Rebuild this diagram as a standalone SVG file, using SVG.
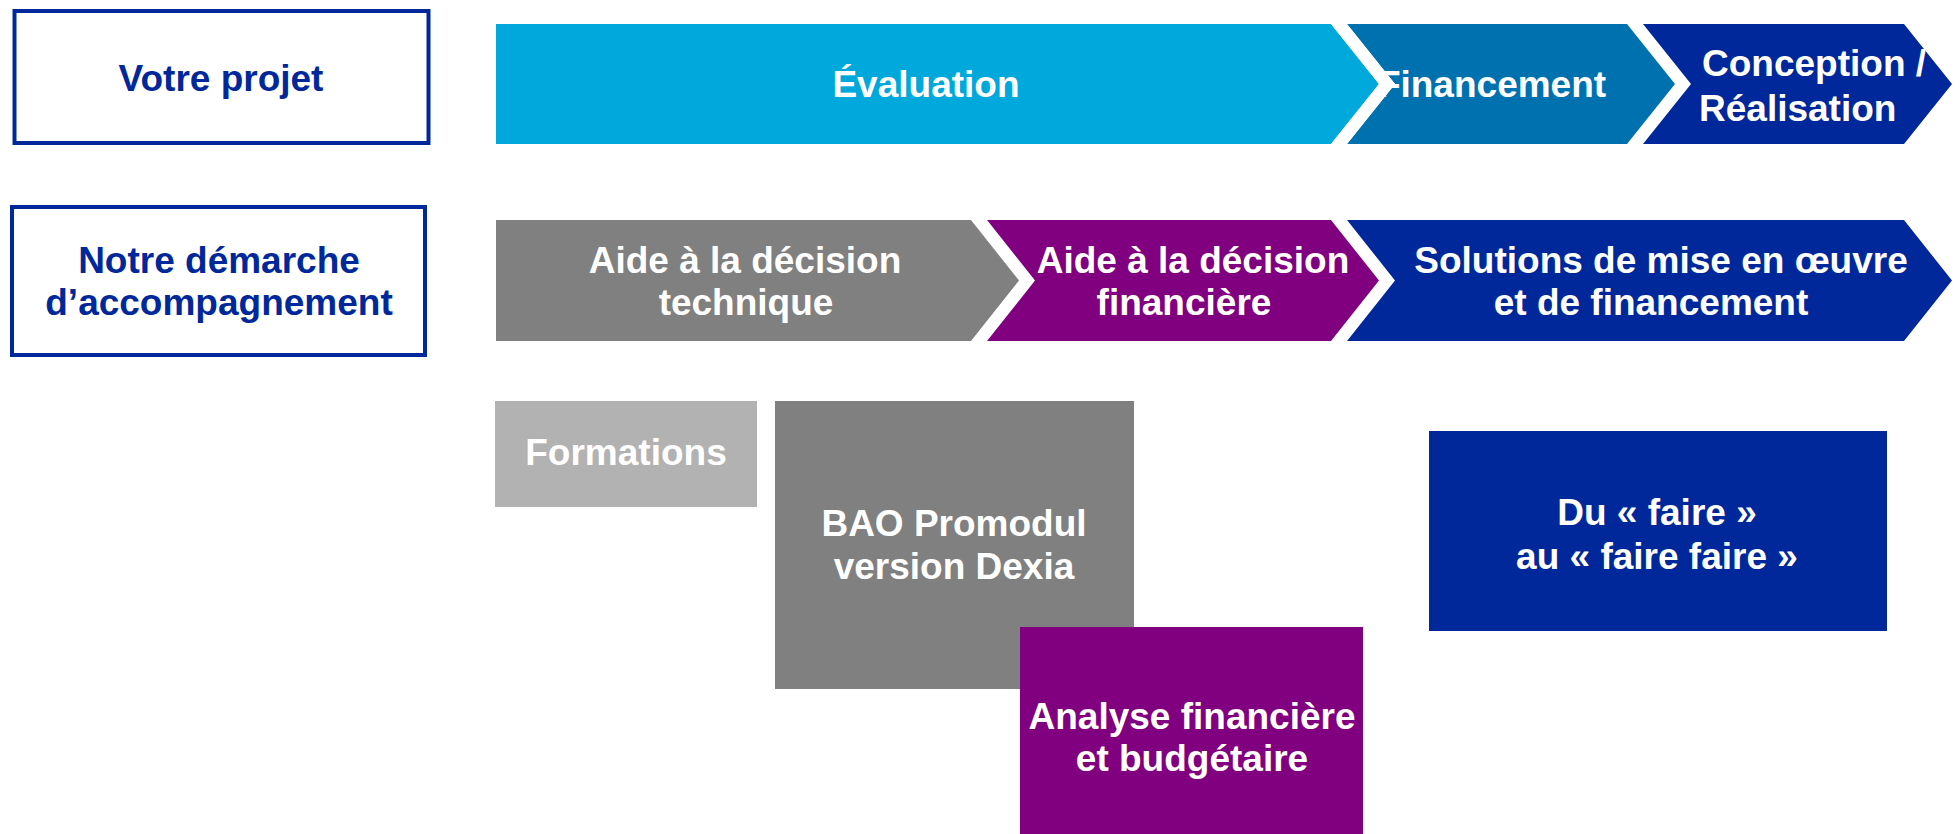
<svg xmlns="http://www.w3.org/2000/svg" width="1960" height="834" viewBox="0 0 1960 834">
<style>
text{font-family:"Liberation Sans",Arial,sans-serif;font-weight:bold;font-size:37px;fill:#ffffff;text-anchor:middle}
.lbl{fill:#00289A}
.frame{fill:#ffffff;stroke:#00289A;stroke-width:4}
</style>
<rect width="1960" height="834" fill="#ffffff"/>
<g id="votre-projet">
<rect class="frame" x="14.5" y="11" width="414" height="132"/>
<text class="lbl" x="221" y="91">Votre projet</text>
</g>
<g id="notre-demarche">
<rect class="frame" x="12" y="207" width="413" height="148"/>
<text class="lbl" x="219" y="273">Notre démarche</text>
<text class="lbl" x="219" y="315">d’accompagnement</text>
</g>
<g id="evaluation">
<polygon points="496,24 1331,24 1379,84 1331,144 496,144" fill="#00A8DB"/>
<text x="926" y="97">Évaluation</text>
</g>
<g id="financement">
<polygon points="1347,24 1627,24 1675,84 1627,144 1347,144 1395,84" fill="#0071AF"/>
<text x="1492" y="97">Financement</text>
<polygon points="1331,24 1347,24 1395,84 1347,144 1331,144 1379,84" fill="#ffffff"/>
</g>
<g id="conception">
<polygon points="1643,24 1904,24 1952,84 1904,144 1643,144 1691,84" fill="#00289A"/>
<text x="1702" y="76" style="text-anchor:start">Conception /</text>
<text x="1699" y="121" style="text-anchor:start">Réalisation</text>
</g>
<g id="aide-technique">
<polygon points="496,220 971,220 1019,280.5 971,341 496,341" fill="#808080"/>
<text x="745" y="273">Aide à la décision</text>
<text x="746" y="315">technique</text>
</g>
<g id="aide-financiere">
<polygon points="987,220 1331,220 1379,280.5 1331,341 987,341 1035,280.5" fill="#800080"/>
<text x="1193" y="273">Aide à la décision</text>
<text x="1184" y="315">financière</text>
</g>
<g id="solutions">
<polygon points="1347,220 1904,220 1952,280.5 1904,341 1347,341 1395,280.5" fill="#00289A"/>
<text x="1661" y="273">Solutions de mise en œuvre</text>
<text x="1651" y="315">et de financement</text>
</g>
<g id="formations">
<rect x="495" y="401" width="262" height="106" fill="#B2B2B2"/>
<text x="626" y="465">Formations</text>
</g>
<g id="bao">
<rect x="775" y="401" width="359" height="288" fill="#808080"/>
<text x="954" y="536">BAO Promodul</text>
<text x="954" y="579">version Dexia</text>
</g>
<g id="analyse">
<rect x="1020" y="627" width="343" height="207" fill="#800080"/>
<text x="1192" y="729">Analyse financière</text>
<text x="1192" y="771">et budgétaire</text>
</g>
<g id="faire">
<rect x="1429" y="431" width="458" height="200" fill="#00289A"/>
<text x="1657" y="525">Du « faire »</text>
<text x="1657" y="569">au « faire faire »</text>
</g>
<g id="connectors"/>
</svg>
